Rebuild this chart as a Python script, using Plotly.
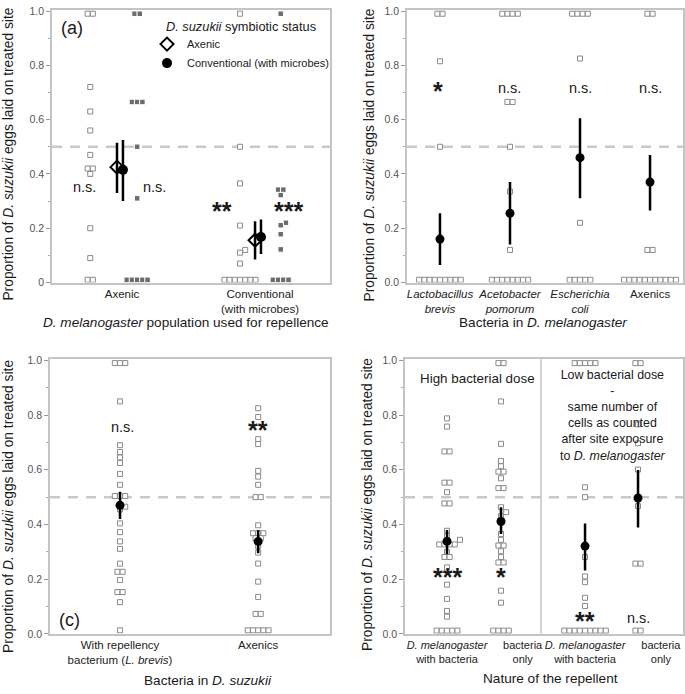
import plotly.graph_objects as go

# The page body's default margin is removed (see post_script), so the
# figure fills the 685x694 viewport; layout positions below are page pixels.
OFF = 0
W, H = 685, 694

# ---------------- DATA ----------------
# Panel (a): D. melanogaster population used for repellence
a_categories = ["Axenic", "Conventional<br>(with microbes)"]
a_axpop_axenic_suz = [0.99, 0.99, 0.72, 0.63, 0.56, 0.47, 0.42, 0.42, 0.40, 0.20, 0.09, 0.01, 0.01]
a_axpop_conv_suz = [0.99, 0.99, 0.665, 0.665, 0.665, 0.50, 0.31, 0.01, 0.01, 0.01, 0.01, 0.01]
a_convpop_axenic_suz = [0.99, 0.50, 0.365, 0.21, 0.12, 0.11, 0.07,
                        0.01, 0.01, 0.01, 0.01, 0.01, 0.01, 0.01]
a_convpop_conv_suz = [0.99, 0.342, 0.342, 0.322, 0.22, 0.211, 0.178, 0.122,
                      0.01, 0.01, 0.01, 0.01]
a_axenic_mean = [0.425, 0.156]
a_axenic_low = [0.33, 0.085]
a_axenic_high = [0.515, 0.226]
a_conv_mean = [0.415, 0.168]
a_conv_low = [0.30, 0.105]
a_conv_high = [0.525, 0.232]
a_signif_axenic = ["n.s.", "**"]
a_signif_conv = ["n.s.", "***"]

# Panel (b): bacteria in D. melanogaster
b_categories = ["<i>Lactobacillus</i><br><i>brevis</i>", "<i>Acetobacter</i><br><i>pomorum</i>",
                "<i>Escherichia</i><br><i>coli</i>", "Axenics"]
b_lactobacillus = [0.99, 0.99, 0.815, 0.50,
                   0.01, 0.01, 0.01, 0.01, 0.01, 0.01, 0.01, 0.01, 0.01]
b_acetobacter = [0.99, 0.99, 0.99, 0.99, 0.665, 0.665, 0.50, 0.335, 0.12,
                 0.01, 0.01, 0.01, 0.01, 0.01, 0.01, 0.01, 0.01]
b_escherichia = [0.99, 0.99, 0.99, 0.99, 0.825, 0.22,
                 0.01, 0.01, 0.01, 0.01, 0.01]
b_axenics = [0.99, 0.99, 0.12, 0.12,
             0.01, 0.01, 0.01, 0.01, 0.01, 0.01, 0.01, 0.01, 0.01, 0.01, 0.01]
b_mean = [0.16, 0.255, 0.46, 0.37]
b_low = [0.065, 0.14, 0.31, 0.265]
b_high = [0.255, 0.37, 0.605, 0.47]
b_signif = ["*", "n.s.", "n.s.", "n.s."]

# Panel (c): bacteria in D. suzukii
c_categories = ["With repellency<br>bacterium (<i>L. brevis</i>)", "Axenics"]
c_lbrevis = [0.99, 0.99, 0.99, 0.85, 0.69, 0.665, 0.645, 0.625, 0.585, 0.545,
             0.504, 0.504, 0.504, 0.465, 0.455, 0.404, 0.372, 0.338, 0.311, 0.257,
             0.227, 0.227, 0.197, 0.153, 0.153, 0.116, 0.013]
c_axenics = [0.825, 0.793, 0.712, 0.694, 0.596, 0.575, 0.545, 0.50, 0.50, 0.397,
             0.368, 0.368, 0.368, 0.35, 0.35, 0.32, 0.297, 0.257, 0.191, 0.135,
             0.073, 0.073, 0.013, 0.013, 0.013, 0.013, 0.013]
c_mean = [0.47, 0.338]
c_low = [0.42, 0.295]
c_high = [0.52, 0.38]
c_signif = ["n.s.", "**"]

# Panel (d): nature of the repellent
d_categories = ["<i>D. melanogaster</i><br>with bacteria", "bacteria<br>only",
                "<i>D. melanogaster</i><br>with bacteria", "bacteria<br>only"]
d_high_mel = [0.788, 0.758, 0.667, 0.667, 0.553, 0.553, 0.518, 0.477, 0.477, 0.377,
              0.359, 0.344, 0.327, 0.327, 0.327, 0.327, 0.299, 0.281, 0.281, 0.243,
              0.18, 0.128, 0.084, 0.063, 0.012, 0.012, 0.012, 0.012, 0.012]
d_high_bac = [0.99, 0.99, 0.85, 0.695, 0.632, 0.613, 0.593, 0.593, 0.569, 0.533,
              0.533, 0.463, 0.445, 0.43, 0.365, 0.344, 0.323, 0.323, 0.302, 0.281,
              0.261, 0.261, 0.158, 0.114, 0.012, 0.012, 0.012, 0.012]
d_low_mel = [0.99, 0.99, 0.99, 0.99, 0.99, 0.536, 0.50, 0.281, 0.21, 0.189, 0.132, 0.102,
             0.012, 0.012, 0.012, 0.012, 0.012, 0.012, 0.012, 0.012, 0.012]
d_low_bac = [0.99, 0.99, 0.766, 0.697, 0.601, 0.467, 0.257, 0.257, 0.012, 0.012]
d_mean = [0.338, 0.411, 0.321, 0.497]
d_low = [0.291, 0.365, 0.232, 0.389]
d_high = [0.38, 0.463, 0.404, 0.599]
d_signif = ["***", "*", "**", "n.s."]

y_title = "Proportion of <i>D. suzukii</i> eggs laid on treated site"

# ---------------- STYLE ----------------
FONT = "Liberation Sans, Arial, Helvetica, sans-serif"
FRAME = "#c4c4c4"
DASH = "#c9c9c9"
OPEN_LINE = "#8a8a8a"
FILLED = "#6c6c6c"
MSIZE = 5
STEP = 5.2


def PX(x):
    return (x - OFF) / W


def PY(y):
    return 1 - (y - OFF) / H


def swarm(values, center, ppx, ppy, step=STEP, size=MSIZE):
    """Beeswarm layout: identical values side by side, close values shifted."""
    order = sorted(range(len(values)), key=lambda i: values[i])
    rows = []
    for i in order:
        if rows and abs(values[rows[-1][0]] - values[i]) < 1e-9:
            rows[-1].append(i)
        else:
            rows.append([i])
    placed = []
    xs = [center] * len(values)
    cands = [0.0]
    for k in range(1, 30):
        cands += [k * step / 2, -k * step / 2]
    for row in rows:
        n = len(row)
        base = [(k - (n - 1) / 2) * step for k in range(n)]
        yp = values[row[0]] * ppy
        shift = 0.0
        for c in cands:
            ok = True
            for b in base:
                for (qx, qy) in placed:
                    if abs(b + c - qx) < step * 0.95 and abs(yp - qy) < size:
                        ok = False
                        break
                if not ok:
                    break
            if ok:
                shift = c
                break
        for k, i in enumerate(row):
            xs[i] = center + (base[k] + shift) / ppx
            placed.append((base[k] + shift, yp))
    return xs


fig = go.Figure()

# panel geometry (page pixels)
panels = {
    "a": dict(ax="", x0=52, x1=330, y0=5, y1=282, xr=[0.493, 2.507], tf=11.5),
    "b": dict(ax="2", x0=407, x1=683, y0=5, y1=282, xr=[0.529, 4.471], tf=11.5),
    "c": dict(ax="3", x0=50, x1=330, y0=360, y1=639, xr=[0.493, 2.52], tf=11.5),
    "d": dict(ax="4", x0=405, x1=683, y0=360, y1=639, xr=[0.222, 5.37], tf=11),
}
YR = [0, 1.004]
for p in panels.values():
    p["ppx"] = (p["x1"] - p["x0"]) / (p["xr"][1] - p["xr"][0])
    p["ppy"] = (p["y1"] - p["y0"]) / (YR[1] - YR[0])


def add_points(vals, center, p, filled=False):
    xs = swarm(vals, center, p["ppx"], p["ppy"])
    fig.add_trace(go.Scatter(
        x=xs, y=vals, mode="markers",
        xaxis="x" + p["ax"], yaxis="y" + p["ax"],
        marker=dict(symbol="square", size=MSIZE + 0.5 if filled else MSIZE,
                    color=FILLED if filled else "white",
                    line=dict(color="white" if filled else OPEN_LINE, width=1)),
        showlegend=False, hoverinfo="skip"))


def add_means(xs, mean, low, high, p, symbol="circle", name=None, legend=False, size=10):
    open_sym = symbol.endswith("open")
    fig.add_trace(go.Scatter(
        x=xs, y=mean, mode="markers", name=name,
        xaxis="x" + p["ax"], yaxis="y" + p["ax"],
        marker=dict(symbol=symbol, size=size, color="black",
                    line=dict(color="black", width=2 if open_sym else 0)),
        error_y=dict(type="data", symmetric=False,
                     array=[h - m for h, m in zip(high, mean)],
                     arrayminus=[m - l for m, l in zip(mean, low)],
                     thickness=2.5, width=0, color="black"),
        showlegend=legend, hoverinfo="skip"))


# ---- Panel (a)
pa = panels["a"]
a_pos = [1, 2]
add_points(a_axpop_axenic_suz, a_pos[0] - 0.23, pa)
add_points(a_axpop_conv_suz, a_pos[0] + 0.11, pa, filled=True)
add_points(a_convpop_axenic_suz, a_pos[1] - 0.145, pa)
add_points(a_convpop_conv_suz, a_pos[1] + 0.15, pa, filled=True)
add_means([x - 0.036 for x in a_pos], a_axenic_mean, a_axenic_low, a_axenic_high, pa,
          symbol="diamond-open", name="Axenic", legend=True, size=10)
add_means([x + 0.007 for x in a_pos], a_conv_mean, a_conv_low, a_conv_high, pa,
          symbol="circle", name="Conventional (with microbes)", legend=True, size=10)

# ---- Panel (b)
pb = panels["b"]
b_pos = [1, 2, 3, 4]
for vals, x in zip([b_lactobacillus, b_acetobacter, b_escherichia, b_axenics], b_pos):
    add_points(vals, x, pb)
add_means(b_pos, b_mean, b_low, b_high, pb, size=9)

# ---- Panel (c)
pc = panels["c"]
c_pos = [1, 2]
for vals, x in zip([c_lbrevis, c_axenics], c_pos):
    add_points(vals, x, pc)
add_means(c_pos, c_mean, c_low, c_high, pc, size=9)

# ---- Panel (d)
pd_ = panels["d"]
d_pos = [1, 2, 3.556, 4.537]
d_label_pos = [1, 2.4, 3.556, 4.96]
for vals, x in zip([d_high_mel, d_high_bac, d_low_mel, d_low_bac], d_pos):
    add_points(vals, x, pd_)
add_means(d_pos, d_mean, d_low, d_high, pd_, size=9)

# ---------------- LAYOUT ----------------
layout = dict(
    width=W, height=H, margin=dict(l=0, r=0, t=0, b=0),
    paper_bgcolor="white", plot_bgcolor="white",
    font=dict(family=FONT, color="#1a1a1a"),
    showlegend=True,
    legend=dict(x=PX(147), y=PY(25), xanchor="left", yanchor="top",
                font=dict(size=11, family=FONT, color="#1a1a1a"),
                bgcolor="rgba(0,0,0,0)", tracegroupgap=0, itemwidth=30),
)

tick_sets = {
    "a": (a_pos, a_categories),
    "b": (b_pos, b_categories),
    "c": (c_pos, c_categories),
    "d": (d_label_pos, d_categories),
}
shapes = []
annotations = []
for key, p in panels.items():
    ax = p["ax"]
    tv, tt = tick_sets[key]
    layout["xaxis" + ax] = dict(
        domain=[PX(p["x0"]), PX(p["x1"])], range=p["xr"], anchor="y" + ax,
        showgrid=False, zeroline=False, showline=True, mirror=True,
        linecolor=FRAME, linewidth=1.5, tickmode="array", tickvals=tv, ticktext=tt,
        ticks="", tickangle=0, tickfont=dict(size=p["tf"], family=FONT, color="#222"),
        fixedrange=True)
    yax = dict(
        domain=[PY(p["y1"]), PY(p["y0"])], range=YR, anchor="x" + ax,
        showgrid=False, zeroline=False, showline=True, mirror=True,
        linecolor=FRAME, linewidth=1.5, tickmode="linear", tick0=0, dtick=0.2,
        tickformat=".1f", ticks="outside", ticklen=4, tickcolor="#999", tickwidth=1,
        tickfont=dict(size=10.5, family=FONT, color="#555"),
        minor=dict(tickmode="linear", tick0=0, dtick=0.1, ticks="outside",
                   ticklen=2, tickcolor="#aaa", tickwidth=1),
        fixedrange=True)
    if key == "a":
        yax["labelalias"] = {"0.0": "0"}
    layout["yaxis" + ax] = yax
    # dashed line at 0.5
    shapes.append(dict(type="line", xref="x" + ax + " domain", yref="y" + ax,
                       x0=0, x1=1, y0=0.5, y1=0.5, layer="below",
                       line=dict(color=DASH, width=2.5, dash="10px,8px")))

# divider in panel (d)
shapes.append(dict(type="line", xref="x4", yref="y4 domain", x0=2.74, x1=2.74,
                   y0=0, y1=1, line=dict(color=FRAME, width=1.5)))


def ann(text, x, y, xref="paper", yref="paper", size=13, bold=False,
        xanchor="center", yanchor="middle", **kw):
    f = dict(size=size, family=FONT, color="#1a1a1a")
    if bold:
        f["weight"] = "bold"
    d = dict(text=text, x=x, y=y, xref=xref, yref=yref, showarrow=False,
             font=f, xanchor=xanchor, yanchor=yanchor)
    d.update(kw)
    annotations.append(d)


# y titles
for (xp, yp) in [(9, 152), (370, 153), (9, 510), (368, 508)]:
    ann(y_title, PX(xp), PY(yp), size=13.8, textangle=-90)
# x titles
ann("<i>D. melanogaster</i> population used for repellence", PX(186), PY(323), size=13.6)
ann("Bacteria in <i>D. melanogaster</i>", PX(543), PY(323), size=13.6)
ann("Bacteria in <i>D. suzukii</i>", PX(208), PY(686), size=13.6)
ann("Nature of the repellent", PX(550), PY(684), size=13.6)
# panel letters
ann("(a)", PX(59), PY(23), size=18, xanchor="left")
ann("(c)", PX(57), PY(625), size=18, xanchor="left")
# legend title
ann("<i>D. suzukii</i> symbiotic status", PX(164), PY(22), size=12.8, xanchor="left")


def signif(text, x, y, xref, yref):
    if text.startswith("*"):
        ann(text, x, y, xref=xref, yref=yref, size=25, bold=True, yshift=-2)
    else:
        ann(text, x, y, xref=xref, yref=yref, size=14.5, yshift=1)


# significance labels
for t, x in zip(a_signif_axenic, [0.732, 1.722]):
    signif(t, x, 0.35 if t == "n.s." else 0.272, "x", "y")
for t, x in zip(a_signif_conv, [1.239, 2.205]):
    signif(t, x, 0.35 if t == "n.s." else 0.272, "x", "y")
for t, x in zip(b_signif, [0.97, 2.0, 3.0, 4.0]):
    signif(t, x, 0.714, "x2", "y2")
for t, x in zip(c_signif, [1.02, 2.0]):
    signif(t, x, 0.753, "x3", "y3")
for t, x, y in zip(d_signif, d_pos, [0.216, 0.216, 0.056, 0.056]):
    signif(t, x, y, "x4", "y4")

# panel (d) treatment texts
ann("High bacterial dose", 1.56, 0.935, xref="x4", yref="y4", size=13.4)
low_lines = ["Low bacterial dose", "-", "same number of", "cells as counted",
             "after site exposure", "to <i>D. melanogaster</i>"]
ann("<br>".join(low_lines), 4.07, 0.80, xref="x4", yref="y4", size=12.4)

layout["shapes"] = shapes
layout["annotations"] = annotations
fig.update_layout(**layout)
fig.write_html(
    "out.html",
    config={"displayModeBar": False},
    post_script="document.body.style.margin='0';document.body.style.overflow='hidden';",
)
